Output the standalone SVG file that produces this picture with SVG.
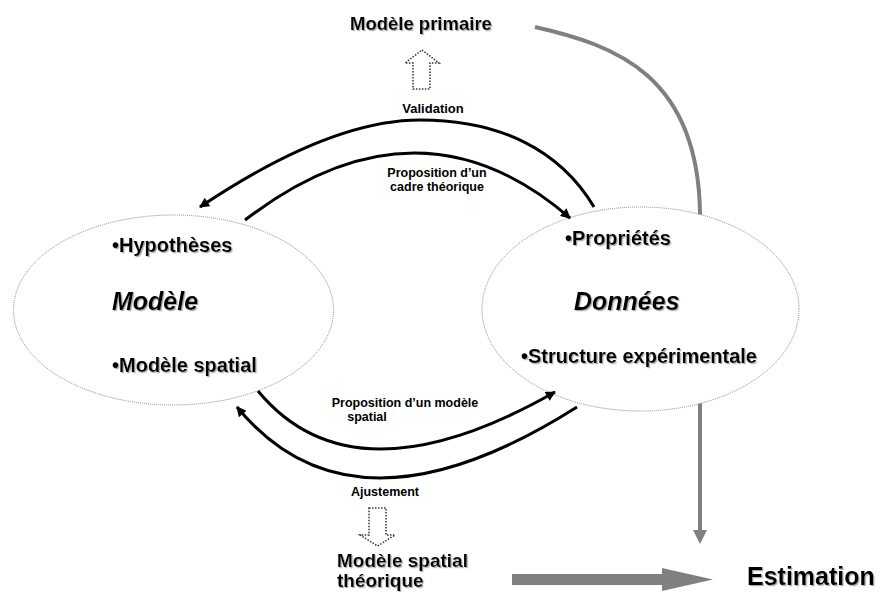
<svg xmlns="http://www.w3.org/2000/svg" width="880" height="592" viewBox="0 0 880 592">
  <defs>
    <filter id="sh" x="-10%" y="-20%" width="120%" height="150%">
      <feDropShadow dx="1.2" dy="1.2" stdDeviation="0.6" flood-color="#999" flood-opacity="0.8"/>
    </filter>
    <marker id="ah" viewBox="0 0 10 10" refX="9" refY="5" markerWidth="12" markerHeight="10" markerUnits="userSpaceOnUse" orient="auto">
      <path d="M0,0 L10,5 L0,10 z" fill="#000"/>
    </marker>
  </defs>
  <style>
    text { font-family: "Liberation Sans", Arial, sans-serif; font-weight: bold; fill: #000; }
    .big { font-size: 20px; filter: url(#sh); }
    .title { font-size: 25px; font-style: italic; filter: url(#sh); }
    .lbl { font-size: 12.5px; text-anchor: middle; }
    .ell { fill: #fff; stroke: #888; stroke-width: 1; stroke-dasharray: 1 1; }
    .arc { fill: none; stroke: #000; stroke-width: 3; marker-end: url(#ah); }
    .dot { fill: #fff; stroke: #333; stroke-width: 1.5; stroke-dasharray: 1.5 1.5; }
    .grey { fill: none; stroke: #808080; stroke-width: 4; }
  </style>
  <rect width="880" height="592" fill="#fff"/>

  <g id="connectors-grey">
    <path class="grey" d="M535,27 C615,45 698,75 700,213 L700,531"/>
    <polygon points="693,530 707,530 700,544" fill="#808080"/>
    <polygon points="512,574 662,574 662,568 713,579.5 662,591 662,585 512,585" fill="#808080"/>
  </g>

  <g id="node-modele">
    <ellipse class="ell" cx="173.5" cy="310" rx="160" ry="95"/>
    <text class="big" x="112" y="252">•Hypothèses</text>
    <text class="title" x="112" y="310">Modèle</text>
    <text class="big" x="112" y="372">•Modèle spatial</text>
  </g>

  <g id="node-donnees">
    <ellipse class="ell" cx="640.5" cy="309" rx="158.5" ry="102"/>
    <text class="big" x="565" y="245">•Propriétés</text>
    <text class="title" x="574" y="310">Données</text>
    <text class="big" x="521" y="363">•Structure expérimentale</text>
  </g>

  <g id="node-modele-primaire">
    <text class="big" x="350" y="30" style="font-size:18.5px">Modèle primaire</text>
    <polygon class="dot" points="422,50 439,63 430,63 430,89 413,89 413,63 405,63"/>
  </g>

  <g id="node-modele-spatial-theorique">
    <polygon class="dot" points="369,508 386,508 386,535 395,535 377.5,546 360,535 369,535"/>
    <text class="big" x="337" y="567" style="font-size:19px">Modèle spatial</text>
    <text class="big" x="337" y="587" style="font-size:19px">théorique</text>
  </g>

  <g id="node-estimation">
    <text class="big" x="747" y="585" style="font-size:25px">Estimation</text>
  </g>

  <g id="connectors">
    <path class="arc" d="M594,207 C560,150 500,120 420,120 C370,120 300,140 200,207"/>
    <path class="arc" d="M245,220 Q418.5,87 570,218"/>
    <path class="arc" d="M258,391 Q353.5,506.5 555,392"/>
    <path class="arc" d="M577,407 Q353,549 237,407"/>
    <text class="lbl" x="433" y="113" style="font-size:13px">Validation</text>
    <text class="lbl" x="437" y="177">Proposition d’un</text>
    <text class="lbl" x="437" y="191">cadre théorique</text>
    <text class="lbl" x="405" y="407">Proposition d’un modèle</text>
    <text class="lbl" x="367" y="421">spatial</text>
    <text class="lbl" x="385" y="496">Ajustement</text>
  </g>
</svg>
